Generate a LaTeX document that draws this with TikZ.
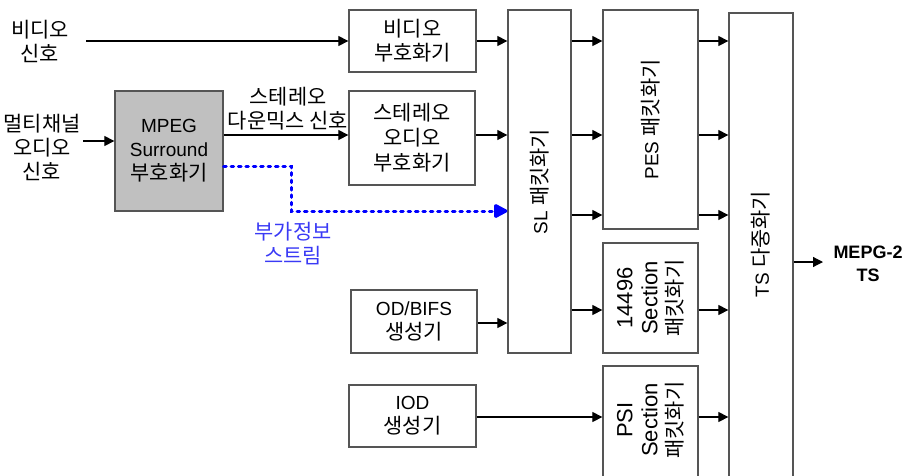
\documentclass[tikz,border=0pt]{standalone}
\usepackage{fontspec}
\setmainfont{Liberation Sans}
\newfontfamily\krfont[Scale=1.1]{Noto Sans CJK KR}
\newcommand\kr[1]{{\krfont #1}}
\usetikzlibrary{arrows.meta}
\definecolor{boxgray}{HTML}{555555}
\definecolor{mpeggray}{HTML}{C0C0C0}
\definecolor{infoblue}{HTML}{3A3AF5}
\begin{document}
\begin{tikzpicture}[x=1pt,y=-1pt,
  every node/.style={font=\fontsize{19}{24}\selectfont, align=center, inner sep=0pt},
  blk/.style={draw=boxgray, line width=1.3pt, fill=white},
  arr/.style={-{Triangle[length=10pt,width=10pt]}, line width=1.2pt},
  dasharr/.style={-{Triangle[length=15pt,width=15pt,round=false]}, line width=3pt, draw=blue, line cap=round, dash pattern=on 2.6pt off 4.8pt},
  vtext/.style={rotate=90},
  bigv/.style={rotate=90, font=\fontsize{22}{25}\selectfont}
]
\useasboundingbox (0,0) rectangle (903,475);

% row coordinates
\coordinate (r1) at (0,41);
\coordinate (r2) at (0,135);
\coordinate (r3) at (0,215);
\coordinate (r4) at (0,310);
\coordinate (r5) at (0,323);
\coordinate (r6) at (0,417);
\coordinate (r7) at (0,262);

% input labels
\node (vidsig) at (40,41) {\kr{비디오}\\\kr{신호}};
\node (mcsig) at (42,147) {\kr{멀티채널}\\\kr{오디오}\\\kr{신호}};
\coordinate (vin) at (86,41);
\coordinate (mcin) at (83,141);

% boxes
\node[blk, minimum width=127pt, minimum height=62pt] (vid) at (412.5,41) {\kr{비디오}\\\kr{부호화기}};
\node[blk, fill=mpeggray, minimum width=108pt, minimum height=120pt] (mpeg) at (169,151) {MPEG\\Surround\\\kr{부호화기}};
\node[blk, minimum width=126pt, minimum height=94pt] (stereo) at (412,138) {\kr{스테레오}\\[1pt]\kr{오디오}\\[1pt]\kr{부호화기}};
\node[blk, minimum width=126pt, minimum height=63pt] (odbifs) at (414,321.5) {OD/BIFS\\\kr{생성기}};
\node[blk, minimum width=127pt, minimum height=62pt] (iod) at (412.5,416) {IOD\\\kr{생성기}};
\node[blk, minimum width=63pt, minimum height=343pt] (sl) at (539.5,181.5) {};
\node[blk, minimum width=95pt, minimum height=219pt] (pes) at (650.5,119.5) {};
\node[blk, minimum width=95pt, minimum height=110pt] (sec) at (650.5,298) {};
\node[blk, minimum width=95pt, minimum height=124pt] (psi) at (650.5,428) {};
\node[blk, minimum width=64pt, minimum height=477pt] (ts) at (761,251.5) {};

% rotated labels
\node[vtext] (sltxt) at (sl.center) {SL \kr{패킷화기}};
\node[vtext] (pestxt) at (pes.center) {PES \kr{패킷화기}};
\node[bigv] (sectxt) at (sec.center) {14496\\Section\\{\fontsize{19}{25}\selectfont\kr{패킷화기}}};
\node[bigv] (psitxt) at (650.5,420) {PSI\\Section\\{\fontsize{19}{25}\selectfont\kr{패킷화기}}};
\node[vtext] (tstxt) at (761,244) {TS \kr{다중화기}};

% other labels
\node (dmx) at (288,109) {\kr{스테레오}\\\kr{다운믹스 신호}};
\node[text=infoblue] (info) at (293,244) {\kr{부가정보}\\\kr{스트림}};
\node[font=\bfseries\fontsize{18}{23}\selectfont] (out) at (868,264) {MEPG-2\\TS};
\coordinate (tsout) at (823,262);

% connectors
\draw[arr] (vin) -- (vin -| vid.west);
\draw[arr] (vid.east |- r1) -- (sl.west |- r1);
\draw[arr] (mcin) -- (mcin -| mpeg.west);
\draw[arr] (mpeg.east |- r2) -- (stereo.west |- r2);
\draw[arr] (stereo.east |- r2) -- (sl.west |- r2);
\coordinate (d1) at (291,166);
\coordinate (d2) at (291,211);
\draw[dasharr] (mpeg.east |- d1) -- (d1) -- (d2) -- (sl.west |- d2);
\draw[arr] (odbifs.east |- r5) -- (sl.west |- r5);
\draw[arr] (iod.east |- r6) -- (psi.west |- r6);
\foreach \r in {r1,r2,r3} {
  \draw[arr] (sl.east |- \r) -- (pes.west |- \r);
  \draw[arr] (pes.east |- \r) -- (ts.west |- \r);
}
\draw[arr] (sl.east |- r4) -- (sec.west |- r4);
\draw[arr] (sec.east |- r4) -- (ts.west |- r4);
\draw[arr] (psi.east |- r6) -- (ts.west |- r6);
\draw[arr] (ts.east |- r7) -- (tsout);
\end{tikzpicture}
\end{document}
